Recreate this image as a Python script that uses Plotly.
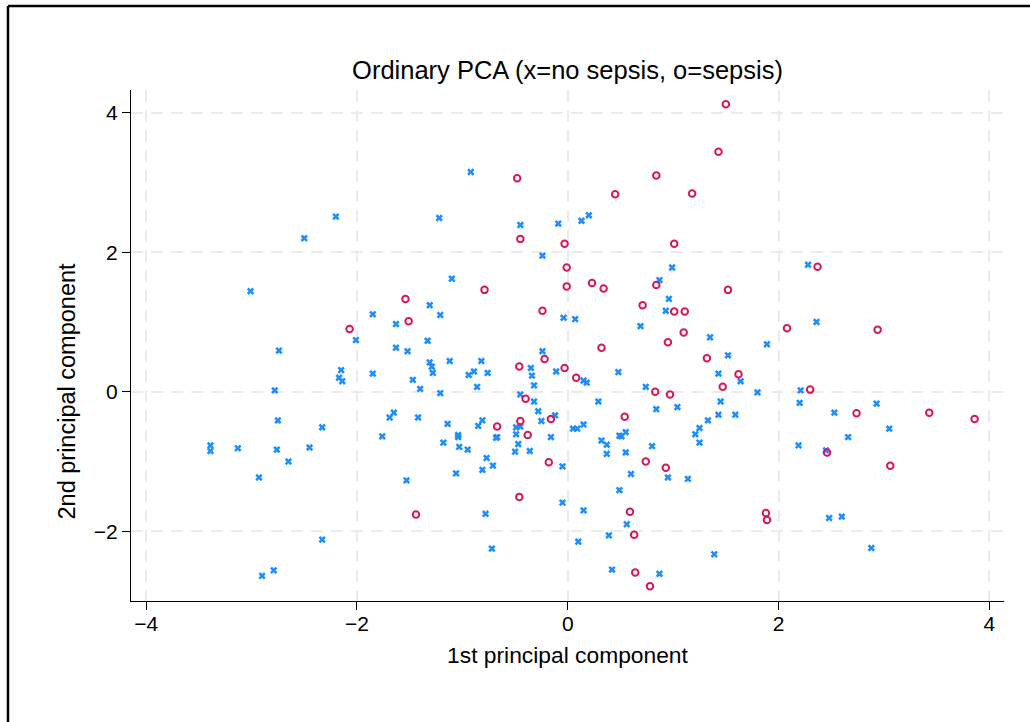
import plotly.graph_objects as go

# 1st / 2nd principal component scores, no sepsis (x markers)
pc1_no_sepsis = [
    -2.20, -2.50, -0.92, -1.22, -0.45, -0.09, 0.13, 0.20, -0.24, 0.99,
    2.28, -3.01, -1.31, -1.85, -1.63, -2.01, -2.74, -1.63, -1.52, -1.33,
    -1.31, -2.15, -2.17, -2.14, -1.85, -1.47, -1.40, -2.78, -2.75, -2.33,
    -1.65, -1.69, -1.42, -1.76, -1.10, 0.87, -1.21, -0.04, 0.07, 0.96,
    0.93, 0.69, 1.35, -0.24, -1.29, -1.28, -1.12, -0.82, -0.89, -0.94,
    -0.76, -0.35, -0.34, -0.11, 0.15, 0.18, 0.48, 1.43, -0.86, -0.32,
    -1.21, -0.45, -0.32, 0.74, 0.29, 0.84, 1.04, 1.45, -0.28, -0.12,
    -0.25, -1.14, -0.81, -0.85, -0.49, -0.45, 0.15, 0.05, 0.09, -1.04,
    -1.04, -0.67, -0.68, -0.49, -0.16, 0.32, 0.49, 0.51, 0.55, 1.33,
    1.25, 1.21, 1.43, 2.36, 1.89, 1.52, 1.64, 1.80, 2.21, 2.20,
    2.53, 2.93, 1.59, 2.66, 3.05, -3.39, -3.39, -3.13, -2.76, -2.45,
    -2.65, -2.93, -1.53, -2.33, -2.79, -2.90, -1.18, -1.03, -0.95, -0.47,
    -0.50, -0.36, -0.77, -0.71, -0.81, -1.06, -0.05, 0.37, 0.37, 0.55,
    0.80, 1.25, 0.95, 1.14, 0.60, 0.49, -0.05, 0.15, 0.56, 0.39,
    -0.78, 0.10, -0.72, 1.39, 0.42, 0.87, 2.19, 2.45, 2.48, 2.60, 2.88,
]
pc2_no_sepsis = [
    2.51, 2.20, 3.15, 2.49, 2.39, 2.41, 2.45, 2.53, 1.95, 1.78,
    1.82, 1.44, 1.24, 1.11, 0.97, 0.74, 0.59, 0.63, 0.58, 0.73,
    0.42, 0.31, 0.20, 0.15, 0.26, 0.17, 0.04, 0.02, -0.41, -0.51,
    -0.30, -0.37, -0.37, -0.64, 1.62, 1.60, 1.10, 1.06, 1.04, 1.33,
    1.16, 0.94, 0.78, 0.58, 0.36, 0.27, 0.44, 0.44, 0.29, 0.24,
    0.27, 0.34, 0.23, 0.29, 0.16, 0.13, 0.28, 0.26, 0.07, 0.09,
    -0.02, -0.04, -0.14, 0.07, -0.14, -0.25, -0.22, -0.14, -0.28, -0.34,
    -0.42, -0.46, -0.41, -0.49, -0.51, -0.50, -0.47, -0.53, -0.53, -0.62,
    -0.65, -0.65, -0.66, -0.61, -0.65, -0.70, -0.63, -0.64, -0.58, -0.41,
    -0.52, -0.61, -0.33, 1.00, 0.68, 0.52, 0.15, -0.01, 0.02, -0.16,
    -0.30, -0.17, -0.33, -0.65, -0.53, -0.77, -0.85, -0.81, -0.83, -0.80,
    -1.00, -1.23, -1.27, -2.12, -2.56, -2.64, -0.73, -0.79, -0.83, -0.75,
    -0.86, -0.85, -0.95, -1.06, -1.12, -1.17, -1.07, -0.76, -0.89, -0.87,
    -0.78, -0.73, -1.23, -1.25, -1.18, -1.41, -1.59, -1.70, -1.90, -2.06,
    -1.75, -2.15, -2.25, -2.33, -2.55, -2.61, -0.77, -0.84, -1.81, -1.79, -2.24,
]

# sepsis (o markers)
pc1_sepsis = [
    -0.48, -0.45, -0.03, -0.01, 0.45, 0.84, 1.18, 1.01, 1.43, 1.50,
    2.37, -1.54, -1.51, -2.07, -0.01, 0.23, 0.34, 0.84, -0.79, -0.24,
    0.71, 1.01, 1.11, 1.10, 0.95, 1.32, 0.32, -0.22, -0.46, -0.03,
    0.08, -0.40, 0.83, 0.97, -0.16, 0.54, -0.45, -0.67, -0.38, 1.52,
    2.08, 2.94, 1.62, 1.47, 2.30, 2.74, 3.43, 3.86, -1.44, -0.18,
    0.74, 0.93, -0.46, 0.59, 0.63, 0.64, 0.78, 2.46, 3.06, 1.88, 1.89,
]
pc2_sepsis = [
    3.06, 2.19, 2.12, 1.78, 2.83, 3.10, 2.84, 2.12, 3.44, 4.12,
    1.79, 1.33, 1.01, 0.90, 1.51, 1.56, 1.48, 1.53, 1.46, 1.16,
    1.24, 1.15, 1.15, 0.85, 0.71, 0.48, 0.63, 0.47, 0.36, 0.34,
    0.20, -0.10, 0.00, -0.04, -0.39, -0.36, -0.42, -0.50, -0.62, 1.46,
    0.91, 0.89, 0.25, 0.07, 0.03, -0.31, -0.30, -0.39, -1.76, -1.01,
    -1.00, -1.09, -1.51, -1.72, -2.05, -2.59, -2.79, -0.87, -1.06, -1.74, -1.84,
]

x_ticks = [-4, -2, 0, 2, 4]
y_ticks = [-2, 0, 2, 4]

title_text = "Ordinary PCA (x=no sepsis, o=sepsis)"
x_title = "1st principal component"
y_title = "2nd principal component"

BLUE = "#1E8FFF"
RED = "#D5195B"
FONT = "Liberation Sans, Arial, sans-serif"

fig = go.Figure()
fig.add_trace(go.Scatter(
    x=pc1_no_sepsis, y=pc2_no_sepsis, mode="markers", name="no sepsis",
    marker=dict(symbol="x", size=6.5, color=BLUE, line=dict(width=0)),
))
fig.add_trace(go.Scatter(
    x=pc1_sepsis, y=pc2_sepsis, mode="markers", name="sepsis",
    marker=dict(symbol="circle-open", size=6.5, color=RED, line=dict(width=2, color=RED)),
))

axis_common = dict(
    showline=True, linecolor="black", linewidth=1.3,
    ticks="outside", ticklen=8, tickwidth=1.3, tickcolor="black",
    showgrid=True, gridcolor="#EBEBEB", gridwidth=1.5, griddash="12px,8px",
    zeroline=False, tickfont=dict(size=21, color="black", family=FONT),
)

fig.update_layout(
    width=1030, height=722,
    paper_bgcolor="white", plot_bgcolor="white",
    margin=dict(l=131, r=26, t=90, b=121, autoexpand=False),
    showlegend=False,
    font=dict(family=FONT, color="black"),
    title=dict(text=title_text, x=567.5 / 1030, xanchor="center",
               y=1 - 70 / 722, yanchor="middle",
               font=dict(size=25.5, color="black", family=FONT)),
    xaxis=dict(range=[-4.144, 4.139], tickvals=x_ticks, ticklabelstandoff=-4,
               title=dict(text=x_title, font=dict(size=22.8, color="black", family=FONT), standoff=12),
               **axis_common),
    yaxis=dict(range=[-3.0, 4.325], tickvals=y_ticks, **axis_common),
    annotations=[
        dict(text=y_title, xref="paper", yref="paper", x=-0.0733, y=0.41,
             xanchor="center", yanchor="middle", textangle=-90, showarrow=False,
             font=dict(size=23.5, color="black", family=FONT)),
    ],
    shapes=[
        dict(type="line", xref="paper", yref="paper", x0=-0.1409, x1=1.3, y0=1.1644, y1=1.1644,
             line=dict(color="black", width=2.5)),
        dict(type="line", xref="paper", yref="paper", x0=-0.1409, x1=-0.1409, y0=-0.4, y1=1.1644,
             line=dict(color="black", width=2.5)),
    ],
)

fig.write_html("out.html")
